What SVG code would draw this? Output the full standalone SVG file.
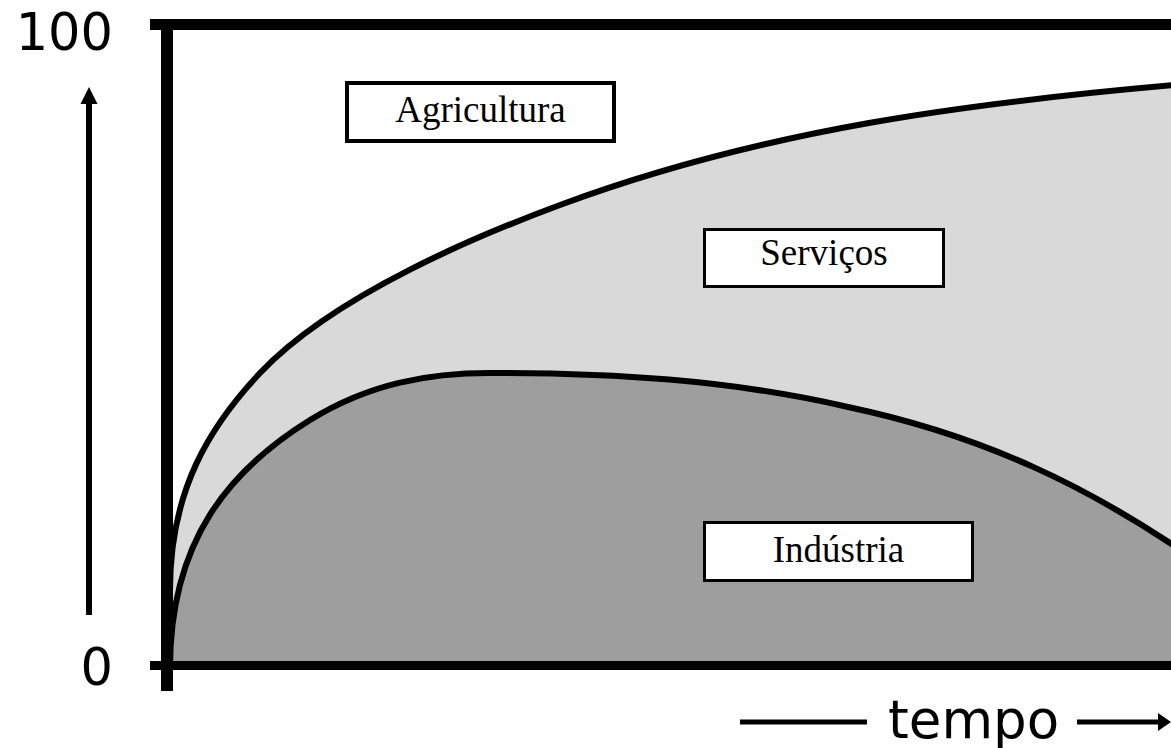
<svg xmlns="http://www.w3.org/2000/svg" width="1171" height="748" viewBox="0 0 1171 748">
  <style>
    .curve { fill: none; stroke: #000; stroke-width: 6; }
    .box { fill: #fff; stroke: #000; }
    .lbl { font-family: "Liberation Serif", "Times New Roman", serif; font-size: 37px; fill: #000; text-anchor: middle; }
    .ax { font-family: "DejaVu Sans", Verdana, sans-serif; fill: #000; }
    .axline { stroke: #000; fill: none; }
  </style>
  <rect x="0" y="0" width="1171" height="748" fill="#fff"/>

  <g id="regions">
    <path id="servicos-area" fill="#d9d9d9" d="M170,590 C170,490 210,426 260,373 C335,293.5 485,232.75 560,205 C765,129 970,103 1175,85 L1175,666 L170,666 Z"/>
    <path id="industria-area" fill="#9e9e9e" d="M170,668 C170,540 230,469.6 310,420 C370,382.8 430,373 490,373 C610,373 728,379.3 848,407 C990,437 1090,490 1173,545 L1175,666 L170,666 Z"/>
  </g>

  <g id="connectors">
    <path id="upper-curve" class="curve" d="M170,590 C170,490 210,426 260,373 C335,293.5 485,232.75 560,205 C765,129 970,103 1175,85"/>
    <path id="lower-curve" class="curve" d="M170,668 C170,540 230,469.6 310,420 C370,382.8 430,373 490,373 C610,373 728,379.3 848,407 C990,437 1090,490 1173,545"/>
  </g>

  <g id="frame">
    <rect x="150" y="19" width="1021" height="11" fill="#000"/>
    <rect x="161" y="19" width="12" height="672" fill="#000"/>
    <rect x="150" y="661" width="1021" height="9" fill="#000"/>
  </g>

  <g id="agricultura">
    <rect class="box" x="347" y="83" width="267" height="58" stroke-width="4"/>
    <text class="lbl" x="480.5" y="122">Agricultura</text>
  </g>
  <g id="servicos">
    <rect class="box" x="704.5" y="229.5" width="239" height="57" stroke-width="3"/>
    <text class="lbl" x="824" y="265">Serviços</text>
  </g>
  <g id="industria">
    <rect class="box" x="704.5" y="522.5" width="268" height="58" stroke-width="3"/>
    <text class="lbl" x="838.5" y="562">Indústria</text>
  </g>

  <g id="y-axis">
    <text class="ax" x="113" y="50" font-size="51" text-anchor="end">100</text>
    <text class="ax" x="113" y="685" font-size="51" text-anchor="end">0</text>
    <line class="axline" x1="89" y1="615" x2="89" y2="100" stroke-width="6"/>
    <polygon points="89,87 80.5,104 97.5,104" fill="#000"/>
  </g>

  <g id="x-axis">
    <line class="axline" x1="740" y1="722" x2="867" y2="722" stroke-width="5"/>
    <text class="ax" x="888" y="738" font-size="53">tempo</text>
    <line class="axline" x1="1077" y1="722" x2="1162" y2="722" stroke-width="5"/>
    <polygon points="1171,722 1158,713 1158,731" fill="#000"/>
  </g>
</svg>
